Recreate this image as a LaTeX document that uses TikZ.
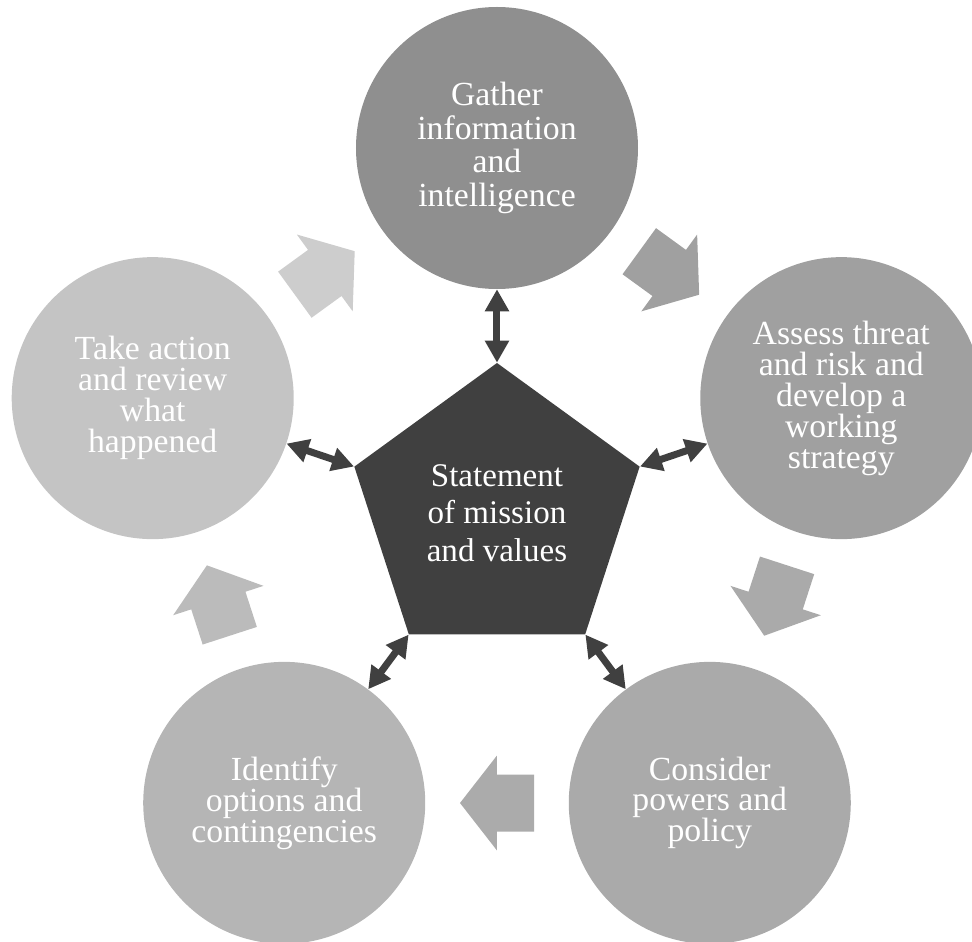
\documentclass[tikz,border=0pt]{standalone}
\usepackage{fontspec}
\setmainfont{Liberation Serif}
\usetikzlibrary{shapes.geometric,arrows.meta}

\definecolor{core}{HTML}{404040}
\definecolor{stepone}{HTML}{8F8F8F}
\definecolor{steptwo}{HTML}{A0A0A0}
\definecolor{stepthree}{HTML}{AAAAAA}
\definecolor{stepfour}{HTML}{B5B5B5}
\definecolor{stepfive}{HTML}{C4C4C4}

\tikzset{
  stage/.style={circle, minimum size=7.05cm, inner sep=0pt, text=white,
    align=center, font=\fontsize{24}{22}\selectfont},
  turn/.pic={
    \path[pic actions] (-0.925,-0.7125) -- (0,-0.7125) -- (0,-1.1875) -- (0.925,0)
      -- (0,1.1875) -- (0,0.7125) -- (-0.925,0.7125) -- cycle;
  },
  twoway/.style={draw=core, line width=0.175cm,
    {Triangle[width=0.575cm,length=0.55cm]}-{Triangle[width=0.575cm,length=0.55cm]}}
}

\begin{document}
\begin{tikzpicture}
\clip (-12.425,-10.8) rectangle (11.875,12.75);

\node[regular polygon, regular polygon sides=5, minimum size=7.5cm, inner sep=0pt,
  fill=core, text=white, align=center, font=\fontsize{23.5}{26.7}\selectfont]
  (mission) at (0,-0.075) {Statement\\of mission\\and values};

\node[stage, fill=stepone, font=\fontsize{24}{23.8}\selectfont] (gather) at (90:9.05)
  {Gather\\information\\and\\intelligence};
\node[stage, fill=steptwo] (assess) at (18:9.05)
  {Assess threat\\and risk and\\develop a\\working\\strategy};
\node[stage, fill=stepthree] (consider) at (-54:9.05)
  {Consider\\powers and\\policy};
\node[stage, fill=stepfour] (identify) at (234:9.05)
  {Identify\\options and\\contingencies};
\node[stage, fill=stepfive] (review) at (162:9.05)
  {Take action\\and review\\what\\happened};

% block arrows between the stages, clockwise
\pic[fill=steptwo, rotate=-36] (toassess) at (54:7.325) {turn};
\pic[fill=stepthree, rotate=-108] (toconsider) at (-18:7.325) {turn};
\pic[fill=stepthree!90!stepfour, rotate=180] (toidentify) at (-90:7.325) {turn};
\pic[fill=stepfour!60!stepfive, rotate=108] (toreview) at (-162:7.325) {turn};
\pic[fill=stepfive!85!white, rotate=36] (togather) at (126:7.325) {turn};

\draw[twoway] (mission.corner 1) -- (gather);
\draw[twoway] (mission.corner 5) -- (assess);
\draw[twoway] (mission.corner 4) -- (consider);
\draw[twoway] (mission.corner 3) -- (identify);
\draw[twoway] (mission.corner 2) -- (review);
\end{tikzpicture}
\end{document}
